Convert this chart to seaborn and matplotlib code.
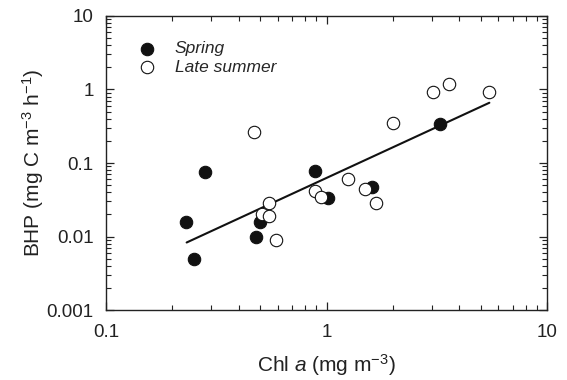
import matplotlib
matplotlib.use("Agg")
from matplotlib import pyplot as plt
from matplotlib.ticker import LogLocator, FuncFormatter, NullFormatter
import pandas as pd
import seaborn as sns

# spring data (filled circles)
spring_chl = [0.23, 0.25, 0.28, 0.48, 0.50, 0.89, 1.01, 1.61, 3.27]
spring_bhp = [0.0157, 0.0049, 0.075, 0.0098, 0.0156, 0.077, 0.033, 0.047, 0.34]

# late summer data (open circles)
summer_chl = [0.47, 0.51, 0.55, 0.55, 0.59, 0.89, 0.94, 1.25, 1.50, 1.67,
              2.01, 3.03, 3.60, 5.47]
summer_bhp = [0.264, 0.020, 0.029, 0.019, 0.0089, 0.041, 0.0345, 0.060,
              0.045, 0.0286, 0.347, 0.925, 1.18, 0.916]

# regression line end points
fit_chl = [0.232, 5.47]
fit_bhp = [0.0083, 0.66]

sns.set_style("ticks")
plt.rcParams["font.family"] = ["Liberation Sans", "DejaVu Sans"]
plt.rcParams["mathtext.fontset"] = "custom"
plt.rcParams["mathtext.rm"] = "Liberation Sans"
plt.rcParams["mathtext.it"] = "Liberation Sans:italic"

df_sp = pd.DataFrame({"chl": spring_chl, "bhp": spring_bhp})
df_su = pd.DataFrame({"chl": summer_chl, "bhp": summer_bhp})
df_fit = pd.DataFrame({"chl": fit_chl, "bhp": fit_bhp})

fig = plt.figure(figsize=(5.67, 3.80), dpi=100)
ax = fig.add_axes([0.187, 0.184, 0.778, 0.774])

sns.lineplot(data=df_fit, x="chl", y="bhp", color="#111111", lw=1.5, ax=ax)
sns.scatterplot(data=df_sp, x="chl", y="bhp", color="#111111",
                edgecolor="#111111", linewidth=0.8, s=80, label="Spring",
                ax=ax, zorder=3)
sns.scatterplot(data=df_su, x="chl", y="bhp", color="white",
                edgecolor="#111111", linewidth=0.8, s=80, label="Late summer",
                ax=ax, zorder=4)

ax.set_xscale("log")
ax.set_yscale("log")
ax.set_xlim(0.1, 10)
ax.set_ylim(0.001, 10)

fmt = FuncFormatter(lambda v, p: "%g" % v)
ax.xaxis.set_major_formatter(fmt)
ax.yaxis.set_major_formatter(fmt)
ax.xaxis.set_minor_locator(LogLocator(base=10, subs=range(2, 10)))
ax.yaxis.set_minor_locator(LogLocator(base=10, subs=range(2, 10)))
ax.xaxis.set_minor_formatter(NullFormatter())
ax.yaxis.set_minor_formatter(NullFormatter())

ax.tick_params(which="both", direction="in", top=True, right=True,
               labelsize=13.5, colors="#222222")
ax.tick_params(axis="x", which="major", pad=10)
ax.tick_params(axis="y", which="major", pad=9)
ax.tick_params(which="major", length=6, width=0.9)
ax.tick_params(which="minor", length=3.5, width=0.8)
for s in ax.spines.values():
    s.set_linewidth(1.0)
    s.set_color("#222222")

ax.set_xlabel(r"Chl $\it{a}$ (mg m$^{-3}$)", fontsize=15, color="#222222",
              labelpad=8)
ax.set_ylabel(r"BHP (mg C m$^{-3}$ h$^{-1}$)", fontsize=15, color="#222222",
              labelpad=0)

ax.legend(loc="upper left", bbox_to_anchor=(0.03, 0.95), frameon=False,
          prop={"style": "italic", "size": 12.5}, handletextpad=0.6,
          labelspacing=0.2, borderaxespad=0.2)

fig.savefig("out.png", dpi=100)
